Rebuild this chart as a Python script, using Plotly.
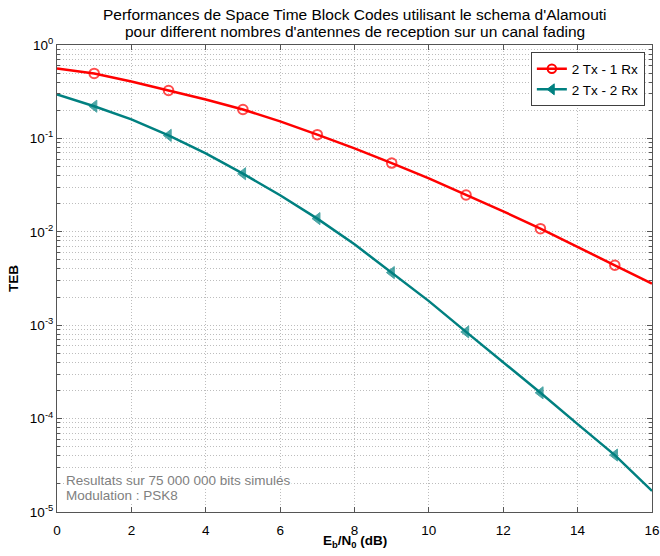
import plotly.graph_objects as go

ebn0 = list(range(0, 17))
teb_1rx = [0.561, 0.496, 0.407, 0.326, 0.261, 0.204, 0.152, 0.1096, 0.0782,
           0.0544, 0.0373, 0.0248, 0.01656, 0.0108, 0.00683, 0.00438, 0.00279]
teb_2rx = [0.296, 0.221, 0.160, 0.1077, 0.0691, 0.0419, 0.0246, 0.01384, 0.00735,
           0.00366, 0.00181, 0.000848, 0.000402, 0.000189, 8.73e-5, 4.07e-5, 1.68e-5]
marker_mask = [0, 1] * 8 + [0]  # markers on odd Eb/N0 values
names = ["2 Tx - 1 Rx", "2 Tx - 2 Rx"]
title_lines = ["Performances de Space Time Block Codes utilisant le schema d'Alamouti",
               "pour different nombres d'antennes de reception sur un canal fading"]
note_lines = ["Resultats sur 75 000 000 bits simulés", "Modulation : PSK8"]
x_label = "<b>E<sub>b</sub>/N<sub>0</sub> (dB)</b>"
y_label = "<b>TEB</b>"
ytick_vals = [1e-5, 1e-4, 1e-3, 1e-2, 1e-1, 1]
ytick_text = ["10<sup>-5</sup>", "10<sup>-4</sup>", "10<sup>-3</sup>",
              "10<sup>-2</sup>", "10<sup>-1</sup>", "10<sup>0</sup>"]

RED = "#FF0000"
TEAL = "#008080"
FONT = "Liberation Sans, Arial, Helvetica, sans-serif"
FS = 13.5

series = [
    dict(name=names[0], y=teb_1rx, color=RED, symbol="circle-open", size=9.5,
         mline=dict(width=2, color=RED)),
    dict(name=names[1], y=teb_2rx, color=TEAL, symbol="triangle-left", size=10.5,
         mline=dict(width=1, color=TEAL)),
]

fig = go.Figure()
for s in series:
    fig.add_trace(go.Scatter(
        x=ebn0, y=s["y"], name=s["name"], mode="lines+markers", showlegend=False,
        legendgroup=s["name"],
        line=dict(color=s["color"], width=2.5),
        marker=dict(symbol=s["symbol"], size=[s["size"] * m for m in marker_mask],
                    color=s["color"], line=s["mline"]),
    ))
for s in series:
    # legend entry (no data drawn)
    fig.add_trace(go.Scatter(
        x=[None], y=[None], name=s["name"], mode="lines+markers", showlegend=True,
        legendgroup=s["name"],
        line=dict(color=s["color"], width=2.5),
        marker=dict(symbol=s["symbol"], size=s["size"] - 1, color=s["color"],
                    line=s["mline"]),
    ))

gridc = "#bdbdbd"
dotted = "1px,2px"
axc = "#555555"
fig.update_layout(
    width=660, height=556,
    margin=dict(l=57, r=8, t=44.5, b=44),
    paper_bgcolor="white", plot_bgcolor="white",
    font=dict(family=FONT, size=FS, color="black"),
    showlegend=True,
    legend=dict(x=0.988, y=0.984, xanchor="right", yanchor="top",
                bgcolor="white", bordercolor="#404040", borderwidth=1,
                font=dict(family=FONT, size=FS), tracegroupgap=0,
                itemwidth=30),
    xaxis=dict(range=[0, 16], dtick=2, tick0=0, automargin=False,
               showline=True, linecolor=axc, linewidth=1, mirror="ticks",
               ticks="inside", ticklen=5, tickcolor=axc,
               showgrid=True, gridcolor=gridc, griddash=dotted, gridwidth=1,
               zeroline=False, ticklabelstandoff=6,
               tickfont=dict(family=FONT, size=FS)),
    yaxis=dict(type="log", range=[-5, 0], tickvals=ytick_vals, ticktext=ytick_text,
               automargin=False,
               showline=True, linecolor=axc, linewidth=1, mirror="ticks",
               ticks="inside", ticklen=5, tickcolor=axc,
               showgrid=True, gridcolor=gridc, griddash=dotted, gridwidth=1,
               zeroline=False,
               minor=dict(dtick="D1", ticks="inside", ticklen=3, tickcolor=axc,
                          showgrid=True, gridcolor=gridc, griddash=dotted, gridwidth=1),
               title=dict(text=y_label, font=dict(family=FONT, size=FS), standoff=8),
               tickfont=dict(family=FONT, size=FS)),
)

for line, ypx in zip(title_lines, [14, 31]):
    fig.add_annotation(text=line, xref="paper", yref="paper",
                       x=0.5, y=1 + (44.5 - ypx) / 467.5, xanchor="center", yanchor="middle",
                       showarrow=False, font=dict(family=FONT, size=15.5, color="black"))
fig.add_annotation(text=x_label, xref="paper", yref="paper", x=0.5, y=-(542 - 512) / 467.5,
                   xanchor="center", yanchor="middle", showarrow=False,
                   font=dict(family=FONT, size=FS, color="black"))
fig.add_annotation(text=note_lines[0], xref="paper", yref="paper", x=0.0135, y=0.0684,
                   xanchor="left", yanchor="middle", showarrow=False,
                   font=dict(family=FONT, size=FS, color="#808080"), bgcolor="white",
                   borderpad=0)
fig.add_annotation(text=note_lines[1], xref="paper", yref="paper", x=0.0135, y=0.0364,
                   xanchor="left", yanchor="middle", showarrow=False,
                   font=dict(family=FONT, size=FS, color="#808080"), bgcolor="white",
                   borderpad=0)

fig.write_html("out.html")
